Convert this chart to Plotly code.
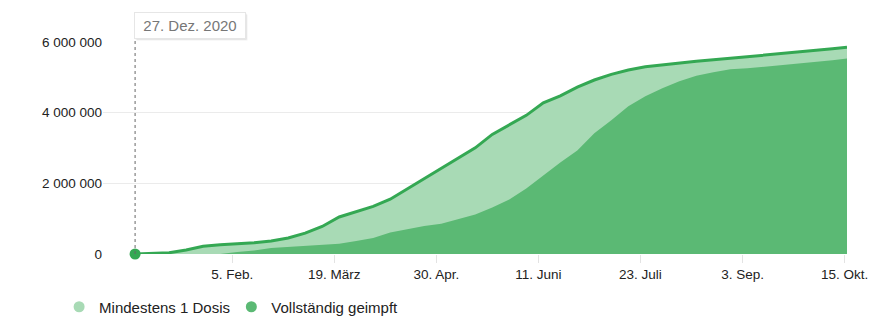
import plotly.graph_objects as go
from datetime import date, timedelta

# Weekly cumulative vaccination counts, starting 27 Dec 2020
start = date(2020, 12, 27)
dates = [start + timedelta(days=7 * k) for k in range(42)] + [date(2021, 10, 16)]

first_dose = [
    0, 20000, 35000, 113000, 218000, 260000, 283000, 317000, 368000, 453000,
    589000, 779000, 1048000, 1190000, 1346000, 1552000, 1841000, 2153000, 2436000, 2720000,
    3003000, 3385000, 3654000, 3924000, 4277000, 4476000, 4725000, 4924000, 5085000, 5207000,
    5298000, 5354000, 5411000, 5453000, 5496000, 5538000, 5595000, 5637000, 5680000, 5722000,
    5765000, 5807000, 5850000,
]
fully_vaccinated = [
    0, 0, 0, 0, 0, 0, 57000, 99000, 170000, 204000,
    232000, 261000, 289000, 368000, 453000, 609000, 708000, 793000, 856000, 992000,
    1119000, 1317000, 1544000, 1856000, 2224000, 2592000, 2932000, 3414000, 3782000, 4179000,
    4462000, 4688000, 4887000, 5043000, 5142000, 5227000, 5255000, 5298000, 5340000, 5383000,
    5425000, 5482000, 5530000,
]

series_names = ["Mindestens 1 Dosis", "Vollständig geimpft"]
hover_date = date(2020, 12, 27)
hover_label = "27. Dez. 2020"

x_tick_dates = [date(2021, 2, 5), date(2021, 3, 19), date(2021, 4, 30), date(2021, 6, 11),
                date(2021, 7, 23), date(2021, 9, 3), date(2021, 10, 15)]
x_tick_labels = ["5. Feb.", "19. März", "30. Apr.", "11. Juni", "23. Juli", "3. Sep.", "15. Okt."]
y_tick_vals = [0, 2000000, 4000000, 6000000]
y_tick_labels = ["0", "2 000 000", "4 000 000", "6 000 000"]

LIGHT = "#a8dab5"
MID = "#5bb974"
LINE = "#34a853"
TEXT = "#222222"
FONT = "Liberation Sans, Arial, sans-serif"

fig = go.Figure()

# light area for first dose, darker area for fully vaccinated in front of it
fig.add_trace(go.Scatter(x=dates, y=first_dose, mode="lines", fill="tozeroy",
                         fillcolor=LIGHT, line=dict(width=0, color=LIGHT),
                         showlegend=False, hoverinfo="skip"))
fig.add_trace(go.Scatter(x=dates, y=fully_vaccinated, mode="lines", fill="tozeroy",
                         fillcolor=MID, line=dict(width=0, color=MID),
                         showlegend=False, hoverinfo="skip"))
fig.add_trace(go.Scatter(x=dates, y=first_dose, mode="lines",
                         line=dict(width=3, color=LINE),
                         showlegend=False, hoverinfo="skip"))
# highlighted point
fig.add_trace(go.Scatter(x=[hover_date], y=[first_dose[0]], mode="markers",
                         marker=dict(size=11, color=LINE), cliponaxis=False,
                         showlegend=False, hoverinfo="skip"))

# legend entries with round symbols
fig.add_trace(go.Scatter(x=[None], y=[None], mode="markers", name=series_names[0],
                         marker=dict(size=11, color=LIGHT), legend="legend"))
fig.add_trace(go.Scatter(x=[None], y=[None], mode="markers", name=series_names[1],
                         marker=dict(size=11, color=MID), legend="legend2"))

# dotted crosshair at the highlighted date
fig.add_shape(type="line", xref="x", yref="paper", x0=hover_date, x1=hover_date,
              y0=0, y1=1.016, line=dict(color="#666666", width=1, dash="dot"), layer="above")

# tooltip box with a soft shadow
for dx, dy, col in [(1.5, -2, "rgba(0,0,0,0.06)"), (0.5, -1, "rgba(0,0,0,0.08)")]:
    fig.add_annotation(x=hover_date, y=1.0156, xref="x", yref="paper",
                       xanchor="left", yanchor="bottom", text=" ", showarrow=False,
                       width=104, height=19, borderpad=3, borderwidth=1,
                       bgcolor=col, bordercolor="rgba(0,0,0,0)", xshift=-1 + dx, yshift=dy)
fig.add_annotation(x=hover_date, y=1.0156, xref="x", yref="paper",
                   xanchor="left", yanchor="bottom", text=hover_label, showarrow=False,
                   width=104, height=19, borderpad=3, borderwidth=1, align="center",
                   bgcolor="#ffffff", bordercolor="#e6e6e6", xshift=-1,
                   font=dict(family=FONT, size=15, color="#777777"))

fig.update_layout(
    width=879, height=329,
    margin=dict(l=103, r=32, t=42, b=75, autoexpand=False),
    paper_bgcolor="white", plot_bgcolor="white",
    font=dict(family=FONT, size=13.5, color=TEXT),
    hovermode=False,
    legend=dict(orientation="h", x=-0.059, xanchor="left", y=-0.25, yanchor="middle",
                font=dict(family=FONT, size=15, color=TEXT), bgcolor="rgba(0,0,0,0)"),
    legend2=dict(orientation="h", x=0.1725, xanchor="left", y=-0.25, yanchor="middle",
                 font=dict(family=FONT, size=15, color=TEXT), bgcolor="rgba(0,0,0,0)"),
)
fig.update_xaxes(
    range=["2020-12-13 19:00", "2021-10-16"],
    tickvals=x_tick_dates, ticktext=x_tick_labels,
    showgrid=False, zeroline=False, showline=False,
    ticks="outside", ticklen=8, tickcolor="#e3e3e3", tickwidth=1,
    tickfont=dict(family=FONT, size=13.5, color=TEXT),
)
fig.update_yaxes(
    range=[0, 6000000],
    tickvals=y_tick_vals, ticktext=y_tick_labels,
    showgrid=True, gridcolor="#ebebeb", gridwidth=1, zeroline=False, showline=False,
    ticks="", ticklabelstandoff=0,
    tickfont=dict(family=FONT, size=13.5, color=TEXT),
)

fig.write_html("out.html", config={"staticPlot": True})
